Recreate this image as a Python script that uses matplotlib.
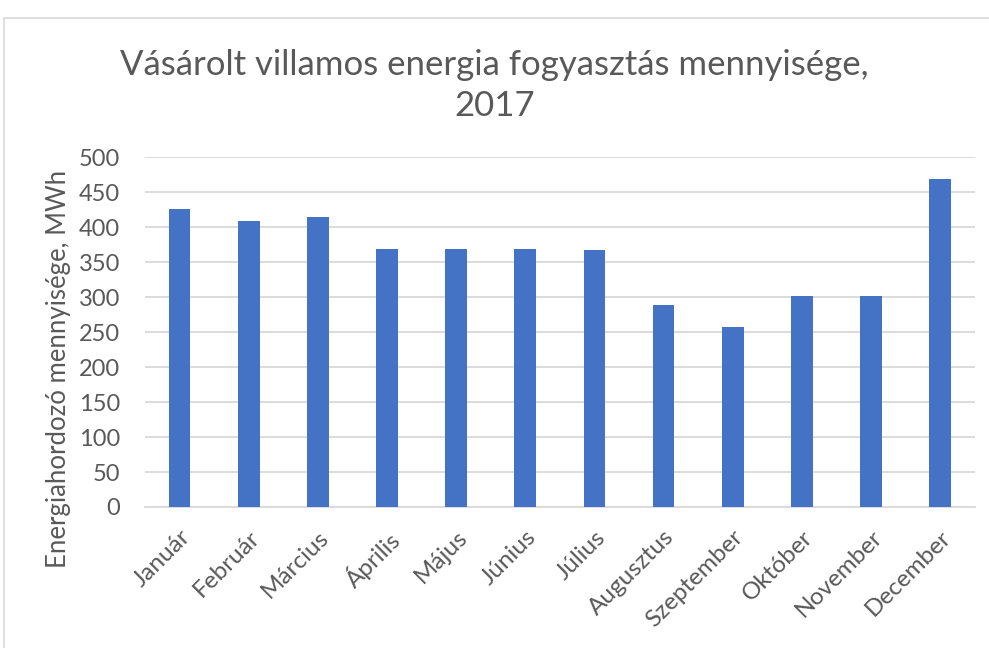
import matplotlib.pyplot as plt
from matplotlib.patches import Rectangle

# Adatok
months = ["Január", "Február", "Március", "Április", "Május", "Június",
          "Július", "Augusztus", "Szeptember", "Október", "November", "December"]
mwh = [426, 409, 415, 369, 369, 369, 367, 288, 257, 302, 302, 468]

plt.rcParams["font.family"] = ["Lato", "DejaVu Sans"]
text_col = "#595959"

fig = plt.figure(figsize=(9.89, 6.48), dpi=100)
ax = fig.add_axes([0.1466, 0.2176, 0.839, 0.540])

ax.bar(range(len(months)), mwh, width=0.315, color="#4472C4", zorder=3)

ax.set_ylim(0, 500)
ax.set_xlim(-0.5, len(months) - 0.5)
ax.set_yticks(range(0, 501, 50))
ax.yaxis.grid(True, color="#d9d9d9", linewidth=1.3, zorder=0)
ax.set_axisbelow(True)
for s in ["top", "right", "left"]:
    ax.spines[s].set_visible(False)
ax.spines["bottom"].set_color("#d9d9d9")
ax.spines["bottom"].set_linewidth(1.3)
ax.tick_params(axis="both", length=0, colors=text_col)
ax.tick_params(axis="y", pad=18, labelsize=17)
ax.tick_params(axis="x", pad=14, labelsize=17.5)

ax.set_xticks(range(len(months)))
ax.set_xticklabels(months, rotation=45, ha="right", rotation_mode="anchor")

ax.set_ylabel("Energiahordozó mennyisége, MWh", fontsize=18.5, color=text_col)
ax.yaxis.set_label_coords(-0.089, 0.394)

fig.suptitle("Vásárolt villamos energia fogyasztás mennyisége,\n2017",
             fontsize=25, color=text_col, y=0.925, linespacing=1.35)

# keret
fig.patches.append(Rectangle((0.004, -0.01), 1.2, 0.992 - 0.01, transform=fig.transFigure,
                             fill=False, edgecolor="#d9d9d9", linewidth=1.2))

fig.savefig("out.png", dpi=100)
